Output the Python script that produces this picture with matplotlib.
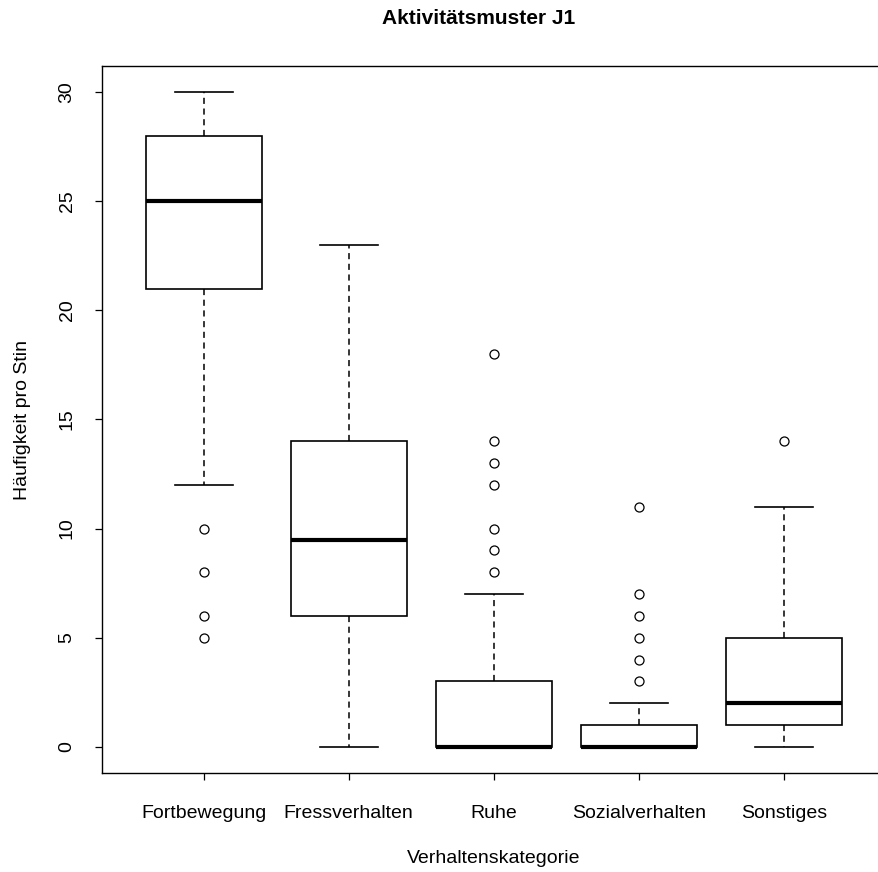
import matplotlib
matplotlib.use('Agg')
import matplotlib.pyplot as plt

plt.rcParams['font.family'] = ['Liberation Sans', 'DejaVu Sans']

# Boxplot summary per behaviour category
categories = ['Fortbewegung', 'Fressverhalten', 'Ruhe', 'Sozialverhalten', 'Sonstiges']
whis_low = [12, 0, 0, 0, 0]
q1 = [21, 6, 0, 0, 1]
medians = [25, 9.5, 0, 0, 2]
q3 = [28, 14, 3, 1, 5]
whis_high = [30, 23, 7, 2, 11]
outliers = [
    [10, 8, 6, 5],
    [],
    [8, 9, 10, 12, 13, 14, 18],
    [3, 4, 5, 6, 7, 11],
    [14],
]

stats = []
for i, name in enumerate(categories):
    stats.append({
        'label': name, 'whislo': whis_low[i], 'q1': q1[i], 'med': medians[i],
        'q3': q3[i], 'whishi': whis_high[i], 'fliers': outliers[i],
    })

fig = plt.figure(figsize=(8.79, 8.72), dpi=100)
ax = fig.add_axes([102 / 879, 1 - 773 / 872, 783.5 / 879, (773 - 66) / 872])

ax.bxp(stats, positions=range(1, 6), widths=0.8, patch_artist=True,
       boxprops=dict(facecolor='white', edgecolor='black', linewidth=1.2),
       medianprops=dict(color='black', linewidth=3, solid_capstyle='butt'),
       whiskerprops=dict(color='black', linewidth=1.1, linestyle=(0, (4, 3))),
       capprops=dict(color='black', linewidth=1.2),
       capwidths=0.4,
       flierprops=dict(marker='o', markersize=6.5, markerfacecolor='none',
                       markeredgecolor='black', markeredgewidth=0.9))

ax.set_xlim(0.3, 5.7)
ax.set_ylim(-1.2, 31.2)
ax.set_yticks([0, 5, 10, 15, 20, 25, 30])
ax.set_xticks(range(1, 6))
ax.set_xticklabels(categories)
for lbl in ax.get_yticklabels():
    lbl.set_rotation(90)
    lbl.set_va('center')
ax.tick_params(axis='both', direction='out', length=5, width=0.9, labelsize=14)
ax.tick_params(axis='x', pad=18)
ax.tick_params(axis='y', pad=14)
ax.spines['right'].set_visible(False)
for sp in ax.spines.values():
    sp.set_linewidth(1.0)

ax.set_xlabel('Verhaltenskategorie', fontsize=14, labelpad=20)
ax.set_ylabel('Häufigkeit pro Stin', fontsize=14, labelpad=20)
fig.text(479 / 879, 1 - 18 / 872, 'Aktivitätsmuster J1', ha='center', va='center',
         fontsize=15, fontweight='bold')

fig.savefig('out.png', dpi=100)
